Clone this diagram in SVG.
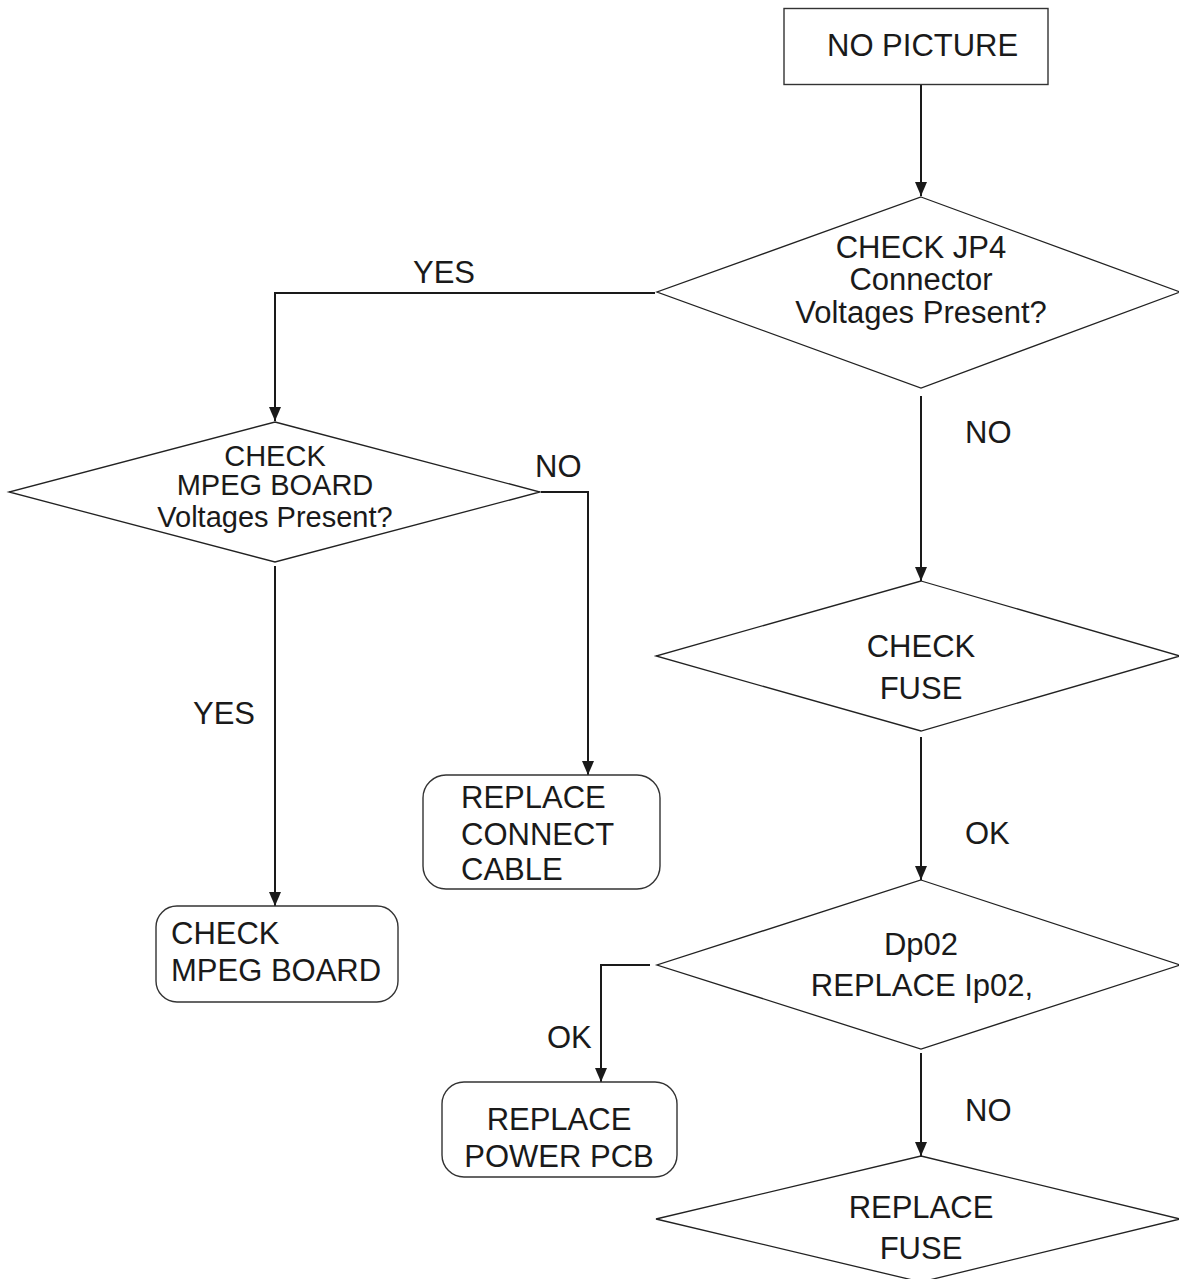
<svg xmlns="http://www.w3.org/2000/svg" width="1179" height="1279" viewBox="0 0 1179 1279">
<style>
text{font-family:"Liberation Sans",Arial,sans-serif;font-size:31px;fill:#1a1a1a}
.c{text-anchor:middle}
.t{font-size:29px}
.shape{fill:#fff;stroke:#222;stroke-width:1.3}
.box{fill:#fff;stroke:#333;stroke-width:1.4}
.conn{fill:none;stroke:#1a1a1a;stroke-width:2}
</style>
<defs>
<marker id="arr" markerUnits="userSpaceOnUse" markerWidth="14" markerHeight="12" refX="14" refY="6" orient="auto" viewBox="0 0 14 12">
<path d="M0,0 L14,6 L0,12 z" fill="#1a1a1a"/>
</marker>
</defs>
<rect width="1179" height="1279" fill="#fff"/>
<g id="connectors">
<path class="conn" d="M921,85 V196" marker-end="url(#arr)"/>
<path class="conn" d="M655,293 H275 V421" marker-end="url(#arr)"/>
<path class="conn" d="M541,492 H588 V775" marker-end="url(#arr)"/>
<path class="conn" d="M275,566 V906" marker-end="url(#arr)"/>
<path class="conn" d="M921,396 V581" marker-end="url(#arr)"/>
<path class="conn" d="M921,737 V880" marker-end="url(#arr)"/>
<path class="conn" d="M650,965 H601 V1082" marker-end="url(#arr)"/>
<path class="conn" d="M921,1053 V1156" marker-end="url(#arr)"/>
<text x="413" y="283">YES</text>
<text x="535" y="477">NO</text>
<text x="193" y="724">YES</text>
<text x="965" y="443">NO</text>
<text x="965" y="844">OK</text>
<text x="547" y="1048">OK</text>
<text x="965" y="1121">NO</text>
</g>
<g id="no-picture">
<rect class="box" x="784" y="8.5" width="264" height="76"/>
<text x="827" y="56">NO PICTURE</text>
</g>
<g id="check-jp4">
<polygon class="shape" points="921,197 1180,292 921,388 657,292"/>
<text class="c" x="921" y="258">CHECK JP4</text>
<text class="c" x="921" y="290">Connector</text>
<text class="c" x="921" y="323">Voltages Present?</text>
</g>
<g id="check-mpeg-voltages">
<polygon class="shape" points="275,422 540,492 275,562 9,492"/>
<text class="c t" x="275" y="466">CHECK</text>
<text class="c t" x="275" y="495">MPEG BOARD</text>
<text class="c t" x="275" y="527">Voltages Present?</text>
</g>
<g id="replace-connect-cable">
<rect class="box" x="423" y="775" width="237" height="114" rx="23"/>
<text x="461" y="808">REPLACE</text>
<text x="461" y="845">CONNECT</text>
<text x="461" y="880">CABLE</text>
</g>
<g id="check-mpeg-board">
<rect class="box" x="156" y="906" width="242" height="96" rx="21"/>
<text x="171" y="944">CHECK</text>
<text x="171" y="981">MPEG BOARD</text>
</g>
<g id="check-fuse">
<polygon class="shape" points="921,581 1180,656 921,731 656,656"/>
<text class="c" x="921" y="657">CHECK</text>
<text class="c" x="921" y="699">FUSE</text>
</g>
<g id="dp02">
<polygon class="shape" points="921,880 1180,965 921,1049 657,965"/>
<text class="c" x="921" y="955">Dp02</text>
<text class="c" x="922" y="996">REPLACE Ip02,</text>
</g>
<g id="replace-power-pcb">
<rect class="box" x="442" y="1082" width="235" height="95" rx="22"/>
<text class="c" x="559" y="1130">REPLACE</text>
<text class="c" x="559" y="1167">POWER PCB</text>
</g>
<g id="replace-fuse">
<polygon class="shape" points="921,1156 1180,1219 921,1282 656,1219"/>
<text class="c" x="921" y="1218">REPLACE</text>
<text class="c" x="921" y="1259">FUSE</text>
</g>
</svg>
